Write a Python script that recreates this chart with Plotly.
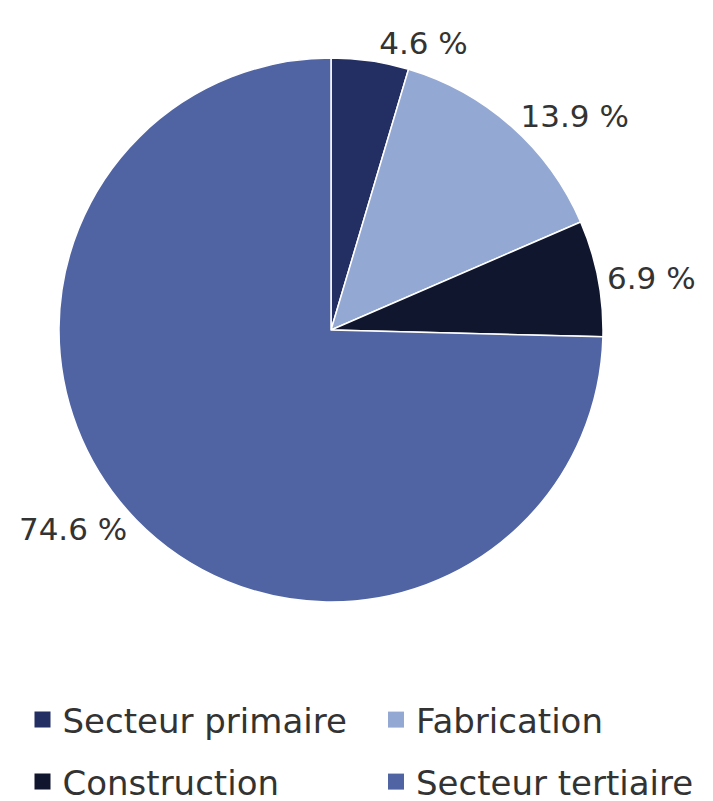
import plotly.graph_objects as go

labels = ["Secteur primaire", "Fabrication", "Construction", "Secteur tertiaire"]
values = [4.6, 13.9, 6.9, 74.6]
colors = ["#232f63", "#94a8d4", "#11162f", "#5064a4"]

FONT = "DejaVu Sans"
TXT = "#333333"

fig = go.Figure()
fig.add_trace(go.Pie(
    labels=labels,
    values=values,
    sort=False,
    direction="clockwise",
    rotation=0,
    marker=dict(colors=colors, line=dict(color="white", width=1.5)),
    texttemplate="%{value:.1f} %",
    textposition="outside",
    textfont=dict(size=31, color=TXT, family=FONT),
    hoverinfo="label+percent",
    showlegend=False,
))

# legend layout: 2 columns x 2 rows (container fractions)
legend_names = ["legend", "legend2", "legend3", "legend4"]
legend_x = [14.5 / 713, 368 / 713, 14.5 / 713, 368 / 713]
legend_y = [1 - 712 / 801, 1 - 712 / 801, 1 - 774 / 801, 1 - 774 / 801]

for lab, col, lg in zip(labels, colors, legend_names):
    fig.add_trace(go.Scatter(
        x=[None], y=[None], mode="markers", name=lab,
        marker=dict(symbol="square", size=16, color=col),
        legend=lg, showlegend=True, hoverinfo="skip",
    ))

leg_layout = {}
for lg, lx, ly in zip(legend_names, legend_x, legend_y):
    leg_layout[lg] = dict(
        orientation="h",
        xref="container", yref="container",
        x=lx, xanchor="left",
        y=ly, yanchor="middle",
        font=dict(size=34, color=TXT, family=FONT),
        itemsizing="trace",
        bgcolor="rgba(0,0,0,0)",
    )

fig.update_layout(
    width=713, height=801,
    margin=dict(l=51, r=118, t=50, b=207, autoexpand=False),
    paper_bgcolor="white",
    plot_bgcolor="white",
    font=dict(family=FONT, size=30, color=TXT),
    xaxis=dict(visible=False),
    yaxis=dict(visible=False),
    **leg_layout,
)

fig.write_html("out.html")
